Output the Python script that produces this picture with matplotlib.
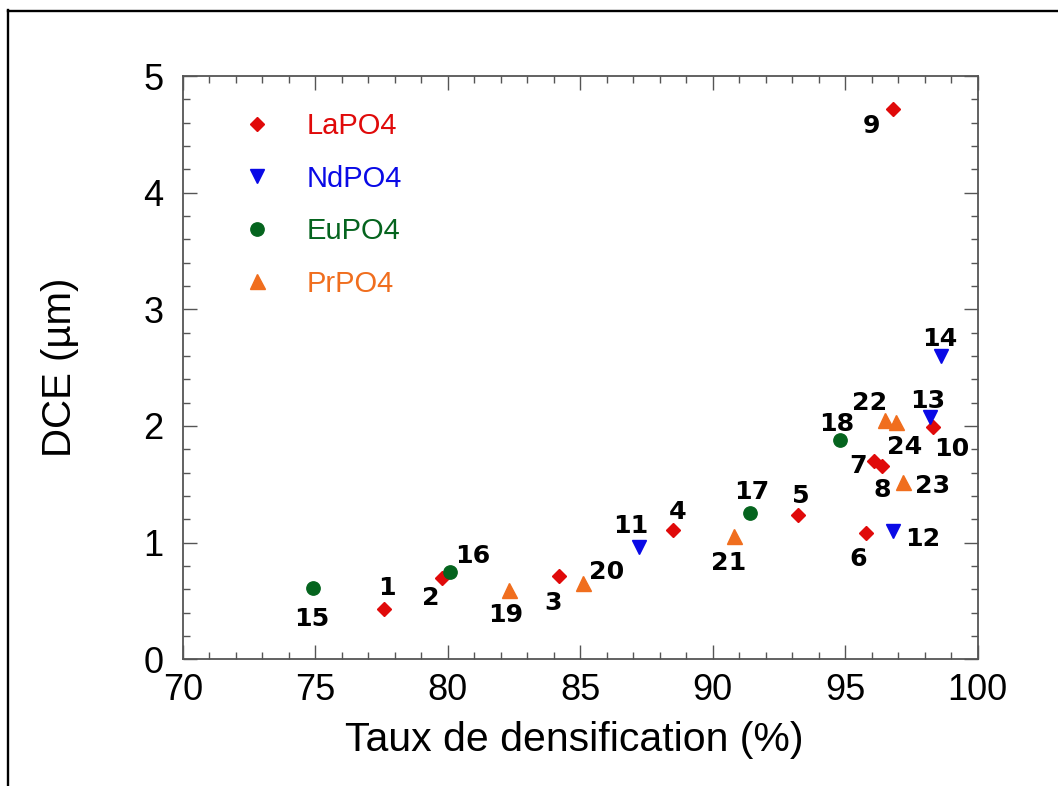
import matplotlib
matplotlib.use("Agg")
import matplotlib.pyplot as plt
from matplotlib.lines import Line2D
from matplotlib.ticker import MultipleLocator

# Densification rate (%) and grain size DCE (µm) per sample, grouped by phosphate
la_id = [1, 2, 3, 4, 5, 6, 7, 8, 9, 10]
la_x = [77.6, 79.8, 84.2, 88.5, 93.2, 95.8, 96.1, 96.4, 96.8, 98.3]
la_y = [0.43, 0.70, 0.71, 1.11, 1.24, 1.08, 1.70, 1.66, 4.72, 1.99]

nd_id = [11, 12, 13, 14]
nd_x = [87.2, 96.8, 98.2, 98.6]
nd_y = [0.96, 1.10, 2.08, 2.60]

eu_id = [15, 16, 17, 18]
eu_x = [74.9, 80.1, 91.4, 94.8]
eu_y = [0.61, 0.75, 1.25, 1.88]

pr_id = [19, 20, 21, 22, 23, 24]
pr_x = [82.3, 85.1, 90.8, 96.5, 97.2, 96.9]
pr_y = [0.59, 0.65, 1.06, 2.05, 1.52, 2.03]

series_names = ["LaPO4", "NdPO4", "EuPO4", "PrPO4"]
x_ticks = [70, 75, 80, 85, 90, 95, 100]
y_ticks = [0, 1, 2, 3, 4, 5]

# label offsets (points) of each sample number relative to its marker
label_offsets = {
    1: (2, 17), 2: (-8.6, -13.5), 3: (-4.6, -17.8), 4: (3.6, 14.4),
    5: (2.2, 14.9), 6: (-6, -16.8), 7: (-11.7, -1.9), 8: (-0.2, -16),
    9: (-15.6, -10.8), 10: (14.1, -14.4), 11: (-5.5, 16.8), 12: (21.8, -4.1),
    13: (-1.9, 12.5), 14: (-0.7, 13.5), 15: (-0.4, -20.9), 16: (16.1, 12.7),
    17: (1.7, 17.3), 18: (-2.4, 13.2), 19: (-2.2, -16.3), 20: (16.8, 9.6),
    21: (-3.9, -18.5), 22: (-11.3, 14.2), 23: (21.1, -1.2), 24: (6.5, -15.8),
}

c_la = "#e00a0a"
c_nd = "#0a0ae6"
c_eu = "#05641e"
c_pr = "#f06e1e"

plt.rcParams["font.family"] = ["Liberation Sans", "DejaVu Sans"]

fig = plt.figure(figsize=(10.58, 7.86), dpi=100)
ax = fig.add_axes([0.1727, 0.1612, 0.7514, 0.7421])

ax.plot(la_x, la_y, ls="none", marker="D", ms=7.6, color=c_la, label=series_names[0])
ax.plot(nd_x, nd_y, ls="none", marker="v", ms=10.2, color=c_nd, label=series_names[1])
ax.plot(eu_x, eu_y, ls="none", marker="o", ms=9.6, color=c_eu, label=series_names[2])
ax.plot(pr_x, pr_y, ls="none", marker="^", ms=10.8, color=c_pr, label=series_names[3])

fs_lab = 18.2
for ids, xs, ys in [(la_id, la_x, la_y), (nd_id, nd_x, nd_y),
                    (eu_id, eu_x, eu_y), (pr_id, pr_x, pr_y)]:
    for i, x, y in zip(ids, xs, ys):
        dx, dy = label_offsets[i]
        ax.annotate(str(i), (x, y), xytext=(dx, dy - 0.36 * fs_lab),
                    textcoords="offset points", ha="center", va="baseline",
                    fontsize=fs_lab, fontweight="bold", family="DejaVu Sans",
                    color="black")

ax.set_xlim(70, 100)
ax.set_ylim(0, 5)
ax.set_xticks(x_ticks)
ax.set_yticks(y_ticks)
ax.xaxis.set_minor_locator(MultipleLocator(1))
ax.yaxis.set_minor_locator(MultipleLocator(0.2))
ax.tick_params(which="both", direction="in", top=True, right=True,
               color="#555555", width=1.0)
ax.tick_params(which="major", length=10, labelsize=26)
ax.tick_params(which="minor", length=5)
ax.tick_params(axis="x", which="major", pad=10)
ax.tick_params(axis="y", which="major", pad=14)
for sp in ax.spines.values():
    sp.set_color("#555555")
    sp.set_linewidth(1.3)

ax.set_xlabel("Taux de densification (%)", fontsize=29.5, labelpad=10)
ax.xaxis.set_label_coords(0.4925, -0.105)
ax.set_ylabel("DCE (µm)", fontsize=29, labelpad=46)

leg = ax.legend(loc="upper left", bbox_to_anchor=(0.075, 0.938), frameon=False,
                fontsize=21, handlelength=1.0, handletextpad=1.22,
                labelspacing=0.84, borderpad=0, borderaxespad=0, numpoints=1)
for txt, col in zip(leg.get_texts(), [c_la, c_nd, c_eu, c_pr]):
    txt.set_color(col)

# outer frame of the figure
fig.add_artist(Line2D([7.5, 7.5], [0, 776], transform=None, color="black", lw=1.7))
fig.add_artist(Line2D([7.5, 1058], [775, 775], transform=None, color="black", lw=1.7))

fig.savefig("out.png", dpi=100)
